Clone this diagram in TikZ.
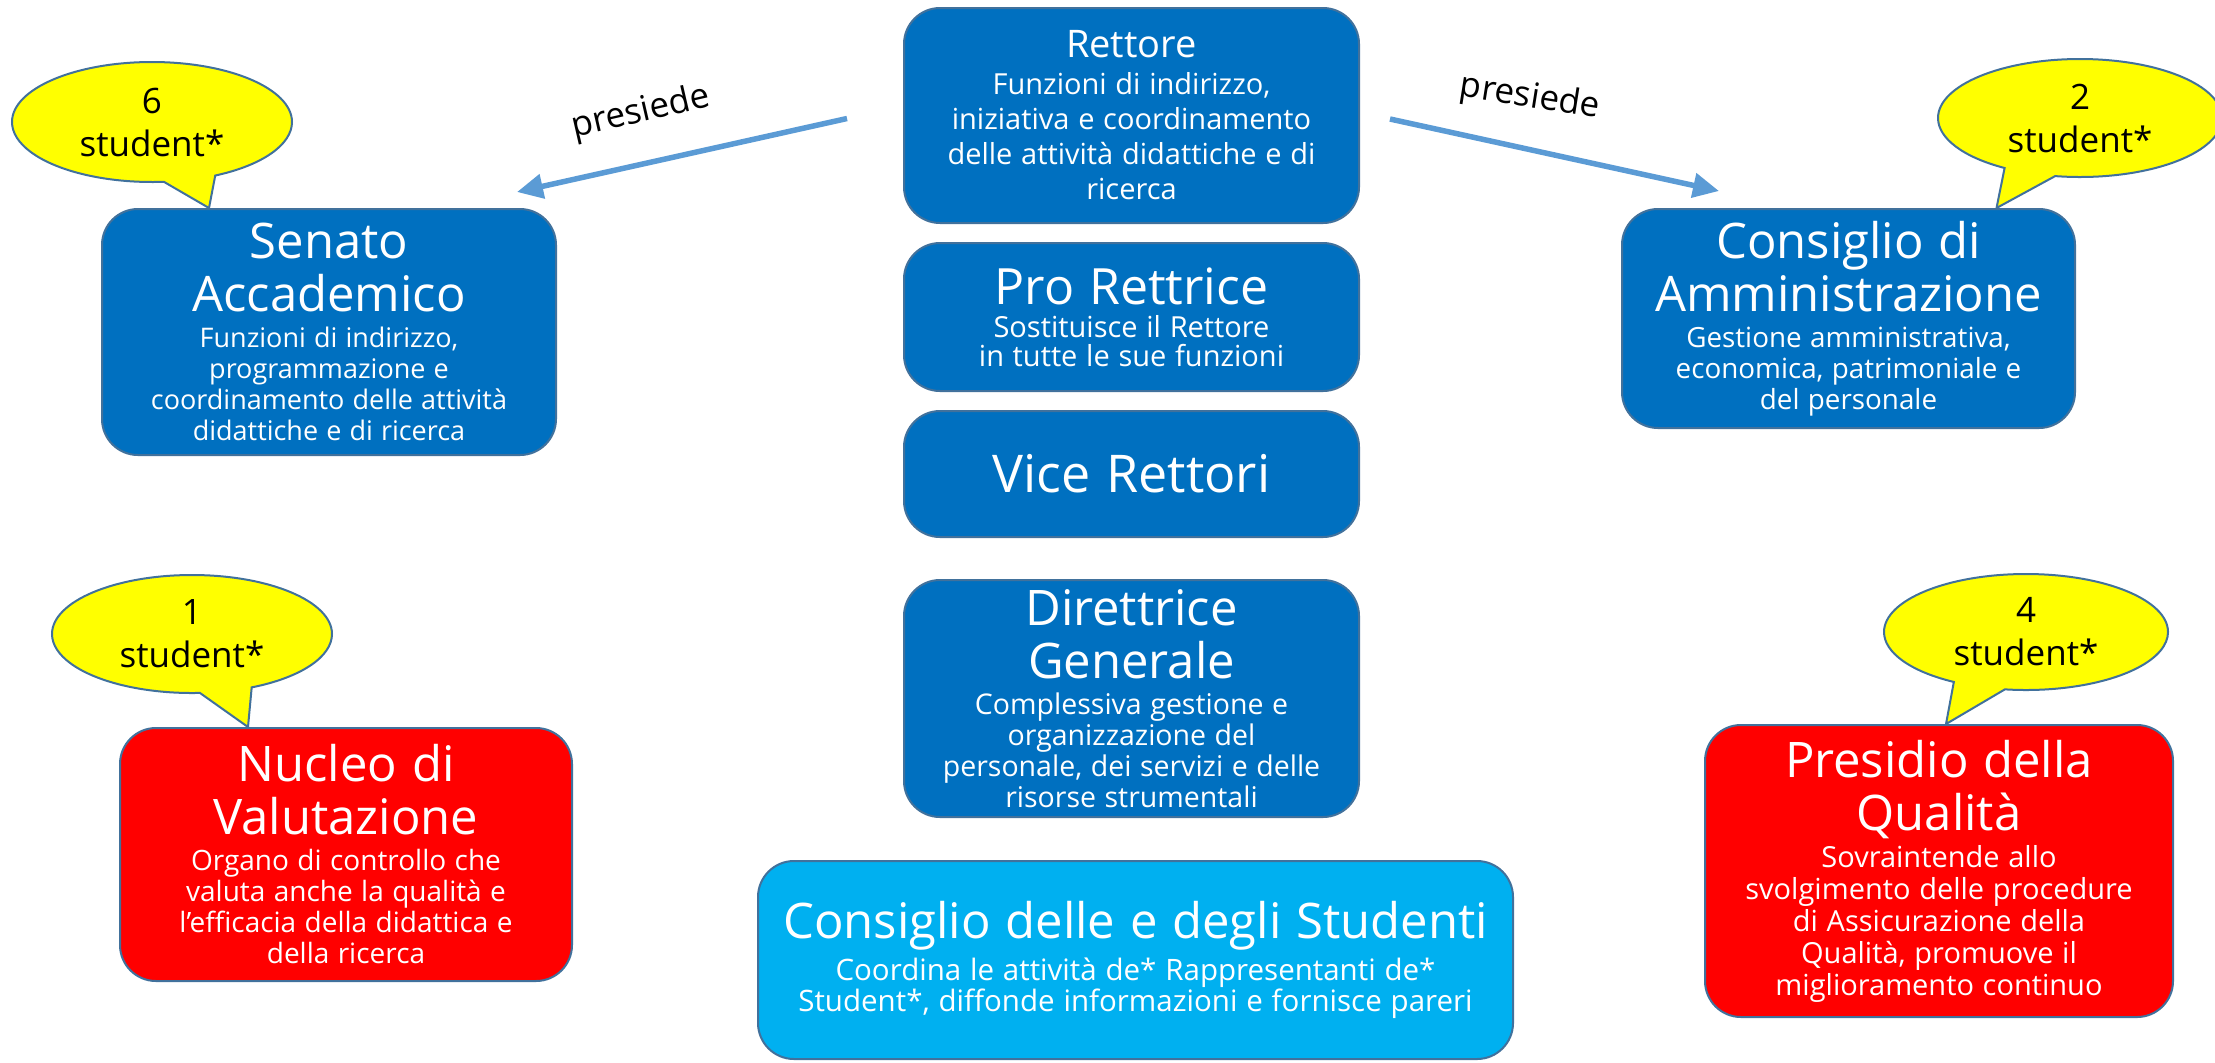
\documentclass[tikz,border=0pt]{standalone}
\usepackage{fontspec}
\setmainfont{Open Sans}
\definecolor{bluorg}{RGB}{0, 112, 192}
\definecolor{azzurro}{RGB}{0, 176, 240}
\definecolor{rossorg}{RGB}{255, 0, 0}
\definecolor{giallo}{RGB}{255, 255, 0}
\definecolor{bordo}{RGB}{65, 113, 156}
\definecolor{freccia}{RGB}{91, 155, 213}
\usetikzlibrary{shapes, shapes.callouts, arrows.meta, calc}
\newcommand{\corpo}[2]{\fontsize{#1}{#2}\selectfont\spaceskip=0.3em\relax}
\newcommand{\titolo}[1]{{\corpo{24.5}{26.5}#1\par}\vspace{2.5pt}}
\newcommand{\testo}[2][13.5]{{\corpo{#1}{15.5}#2\par}}

\begin{document}
\begin{tikzpicture}[x=0.5pt, y=-0.5pt,
    organo/.style={draw=bordo, line width=1pt, fill=bluorg, rounded corners=18pt, text=white, align=center, inner sep=0pt},
    fumetto/.style={ellipse callout, draw=bordo, line width=1pt, fill=giallo, align=center, inner sep=0pt, callout pointer arc=22, font=\corpo{17.5}{21.5}},
    presarrow/.style={draw=freccia, line width=2.75pt, -{Triangle[length=13pt, width=12pt]}},
    etichetta/.style={font=\corpo{17.5}{20}}]
  \useasboundingbox (0,0) rectangle (2215,1062);

  % Central column
  \node[organo, minimum width=227.5pt, minimum height=107.5pt, text width=222pt] (rettore) at (1131.5,115.5) {
    {\corpo{19}{21}Rettore\par}\vspace{1pt}
    {\corpo{14.5}{17.5}Funzioni di indirizzo,\\iniziativa e coordinamento\\delle attività didattiche e di\\ricerca\par}
  };
  \node[organo, minimum width=227.5pt, minimum height=74pt, text width=222pt] (prorettrice) at (1131.5,317) {
    {\corpo{25}{27}Pro Rettrice\par}\vspace{2pt}
    {\corpo{14.5}{14.5}Sostituisce il Rettore\\in tutte le sue funzioni\par}
  };
  \node[organo, minimum width=227.5pt, minimum height=63pt, text width=222pt] (vicerettori) at (1131.5,474) {
    {\corpo{26}{28}Vice Rettori\par}
  };
  \node[organo, minimum width=227.5pt, minimum height=118.5pt, text width=222pt] (direttrice) at (1131.5,698.5) {
    \titolo{Direttrice\\Generale}
    \testo[14.25]{Complessiva gestione e\\organizzazione del\\personale, dei servizi e delle\\risorse strumentali}
  };
  \node[organo, fill=azzurro, minimum width=377.5pt, minimum height=99pt, text width=372pt] (studenti) at (1135.5,960) {
    {\corpo{24.5}{27}Consiglio delle e degli Studenti\par}\vspace{3pt}
    \testo[14.75]{Coordina le attività de* Rappresentanti de*\\Student*, diffonde informazioni e fornisce pareri}
  };

  % Side bodies
  \node[organo, minimum width=227pt, minimum height=123pt, text width=222pt] (senato) at (329,332) {
    \titolo{Senato\\Accademico}
    \testo{Funzioni di indirizzo,\\programmazione e\\coordinamento delle attività\\didattiche e di ricerca}
  };
  \node[organo, minimum width=226.5pt, minimum height=109.5pt, text width=222pt] (consamm) at (1848.5,318.5) {
    \titolo{Consiglio di\\Amministrazione}
    \testo[13.9]{Gestione amministrativa,\\economica, patrimoniale e\\del personale}
  };
  \node[organo, fill=rossorg, minimum width=226pt, minimum height=126.5pt, text width=222pt] (nucleo) at (346,854.5) {
    \titolo{Nucleo di\\Valutazione}
    \testo[14]{Organo di controllo che\\valuta anche la qualità e\\l’efficacia della didattica e\\della ricerca}
  };
  \node[organo, fill=rossorg, minimum width=234pt, minimum height=146pt, text width=230pt] (presidio) at (1939,871) {
    \titolo{Presidio della\\Qualità}
    {\corpo{14.5}{16}Sovraintende allo\\svolgimento delle procedure\\di Assicurazione della\\Qualità, promuove il\\miglioramento continuo\par}
  };

  % Student seats
  \node[fumetto, minimum width=140pt, minimum height=60pt, callout absolute pointer={([shift={(-120,0)}]senato.north)}] (fum6) at (152,122) {6\\student*};
  \node[fumetto, minimum width=142pt, minimum height=59pt, callout absolute pointer={([shift={(148,0)}]consamm.north)}] (fum2) at (2080,118) {2\\student*};
  \node[fumetto, minimum width=140pt, minimum height=59pt, callout absolute pointer={([shift={(-98,0)}]nucleo.north)}] (fum1) at (192,634) {1\\student*};
  \node[fumetto, minimum width=142pt, minimum height=58pt, callout absolute pointer={([shift={(7,0)}]presidio.north)}] (fum4) at (2026,632) {4\\student*};

  % Rettore presides
  \draw[presarrow] ([shift={(-56,3)}]rettore.west) -- ([shift={(-40,-16)}]senato.north east);
  \draw[presarrow] ([shift={(30,3.5)}]rettore.east) -- ([shift={(98,-17)}]consamm.north west);
  \node[etichetta, rotate=13] (presSA) at (641,113) {presiede};
  \node[etichetta, rotate=-9] (presCdA) at (1530,98) {presiede};
\end{tikzpicture}
\end{document}
